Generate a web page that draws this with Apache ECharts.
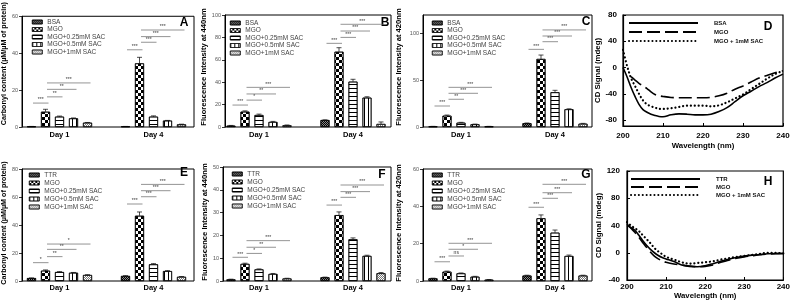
<!DOCTYPE html>
<html><head><meta charset="utf-8">
<script src="https://cdn.jsdelivr.net/npm/echarts@6/dist/echarts.min.js"></script>
<style>html,body{margin:0;padding:0;background:#fff}#c{width:793px;height:307px}</style>
</head><body><div id="c"></div>
<script>
// ---------------- DATA ----------------
const categories = ['Day 1', 'Day 4'];
const groupsBSA = ['BSA', 'MGO', 'MGO+0.25mM SAC', 'MGO+0.5mM SAC', 'MGO+1mM SAC'];
const groupsTTR = ['TTR', 'MGO', 'MGO+0.25mM SAC', 'MGO+0.5mM SAC', 'MGO+1mM SAC'];

// A: carbonyl content, BSA
const carbonylBSA_day1 = [0.3, 8.1, 5.5, 4.6, 2.3];
const carbonylBSA_day4 = [0.3, 33.8, 5.5, 3.4, 1.4];
const carbonylBSA_err1 = [0.3, 9.4, 5.8, 4.8, 2.4];
const carbonylBSA_err4 = [0.3, 37.0, 5.9, 3.5, 1.5];
const carbonylBSA_ticks = [0, 20, 40, 60];
const carbonylBSA_sig = [[0,0,1,12.7,'***'],[0,1,2,16,'**'],[0,1,3,20,'**'],[0,1,4,23.4,'***'],
                         [1,0,1,41,'***'],[1,1,2,45,'***'],[1,1,3,48,'***'],[1,1,4,51.5,'***']];
// B: fluorescence 440nm, BSA
const fl440BSA_day1 = [1.2, 13.7, 10.7, 4.5, 1.5];
const fl440BSA_day4 = [6.2, 67.2, 40.5, 26.2, 2.7];
const fl440BSA_err1 = [1.4, 14.4, 11.5, 5.0, 1.8];
const fl440BSA_err4 = [6.4, 70.8, 42.6, 27.0, 4.5];
const fl440BSA_ticks = [0, 20, 40, 60, 80, 100];
const fl440BSA_sig = [[0,0,1,19.6,'***'],[0,1,2,24,'*'],[0,1,3,29.5,'**'],[0,1,4,35.4,'***'],
                      [1,0,1,74.7,'***'],[1,1,2,80,'***'],[1,1,3,85.7,'***'],[1,1,4,91.7,'***']];
// C: fluorescence 420nm, BSA
const fl420BSA_day1 = [0.6, 12.1, 4.6, 2.9, 0.6];
const fl420BSA_day4 = [4.0, 72.9, 37.2, 19.0, 3.5];
const fl420BSA_err1 = [0.7, 12.8, 5.0, 3.1, 0.7];
const fl420BSA_err4 = [4.3, 77.1, 39.3, 19.5, 3.9];
const fl420BSA_ticks = [0, 50, 100];
const fl420BSA_sig = [[0,0,1,22.5,'***'],[0,1,2,29.7,'**'],[0,1,3,36.1,'***'],[0,1,4,42.5,'***'],
                      [1,0,1,83.2,'***'],[1,1,2,91.4,'***'],[1,1,3,97.5,'***'],[1,1,4,104,'***']];
// E: carbonyl content, TTR
const carbonylTTR_day1 = [2.1, 7.4, 6.4, 5.9, 4.3];
const carbonylTTR_day4 = [3.6, 46.6, 11.9, 7.1, 3.0];
const carbonylTTR_err1 = [2.2, 7.9, 6.7, 6.1, 4.5];
const carbonylTTR_err4 = [3.8, 49.3, 12.4, 7.4, 3.2];
const carbonylTTR_ticks = [0, 20, 40, 60, 80];
const carbonylTTR_sig = [[0,0,1,13.1,'*'],[0,1,2,17.4,'**'],[0,1,3,22.6,'**'],[0,1,4,26.4,'*'],
                         [1,0,1,55,'***'],[1,1,2,60.2,'***'],[1,1,3,64.5,'***'],[1,1,4,69,'***']];
// F: fluorescence 440nm, TTR
const fl440TTR_day1 = [0.7, 7.5, 5.1, 3.1, 1.1];
const fl440TTR_day4 = [1.6, 28.9, 18.3, 11.0, 3.4];
const fl440TTR_err1 = [0.8, 7.8, 5.3, 3.3, 1.2];
const fl440TTR_err4 = [1.7, 30.3, 18.9, 11.3, 3.7];
const fl440TTR_ticks = [0, 10, 20, 30, 40, 50];
const fl440TTR_sig = [[0,0,1,10.4,'***'],[0,1,2,12.1,'*'],[0,1,3,14.8,'**'],[0,1,4,17.7,'***'],
                      [1,0,1,33.3,'***'],[1,1,2,36.7,'***'],[1,1,3,39.2,'***'],[1,1,4,42.1,'***']];
// G: fluorescence 420nm, TTR
const fl420TTR_day1 = [1.4, 5.0, 4.1, 2.3, 0.7];
const fl420TTR_day4 = [2.9, 33.6, 25.9, 13.4, 2.9];
const fl420TTR_err1 = [1.5, 5.3, 4.3, 2.5, 0.8];
const fl420TTR_err4 = [3.1, 35.4, 27.3, 13.9, 3.1];
const fl420TTR_ticks = [0, 20, 40, 60];
const fl420TTR_sig = [[0,0,1,10.3,'***'],[0,1,2,13.4,'ns'],[0,1,3,17,'*'],[0,1,4,20.2,'***'],
                      [1,0,1,39.5,'***'],[1,1,2,44.3,'***'],[1,1,3,47.3,'***'],[1,1,4,51.8,'***']];

// D / H: CD spectra
const wavelength = [200,201,202,203,204,205,206,207,208,209,210,212,214,216,218,220,222,224,226,228,230,232,234,236,238,240];
const wlTicks = [200, 210, 220, 230, 240];
const cdNamesBSA = ['BSA', 'MGO', 'MGO + 1mM SAC'];
const cdNamesTTR = ['TTR', 'MGO', 'MGO + 1mM SAC'];
const cdBSA_native = [0,-14,-30,-44,-56,-64,-68,-71,-73,-74.5,-75,-72,-70.5,-71,-72,-72,-71,-67,-61,-52,-43,-36,-29,-23,-16,-10];
const cdBSA_MGO    = [null,null,-14,-19,-24,-28,-32,-37,-41,-43,-44,-45.5,-46,-46,-46,-46,-45.5,-43,-39,-33,-28,-22,-16,-12,-8,-5];
const cdBSA_SAC    = [27,3,-16,-28,-40,-50,-56,-59,-61,-63,-63,-62,-60,-58,-58,-58,-59,-57.5,-53,-47,-41,-33,-25,-17,-10,-5];
const cdBSA_ticks  = [-80, -40, 0, 40, 80];
const cdTTR_native = [40,37,33,26,18,11,5,0,-4,-7,-9,-13,-18,-20,-20.5,-19,-16,-12.5,-9.5,-7,-5,-3.5,-2.5,-1.5,-1,-1];
const cdTTR_MGO    = [42,36,30,23,15,8,1,-5,-9,-12,-14,-16.5,-18,-19.5,-20.5,-20,-18,-14,-11,-8,-6,-4.5,-3,-2,-1.5,-1];
const cdTTR_SAC    = [45,40,36,32,26,20,14,7,2,-2,-6,-10,-14,-16,-15,-14,-12.5,-10,-8,-6,-4.5,-3,-1.5,0,0,-1];
const cdTTR_ticks  = [-40, 0, 40, 80, 120];

// ---------------- BUILD ----------------
const FONT = '"Liberation Sans", Arial, sans-serif';
const PITCH = 14;
const grids = [], xAxes = [], yAxes = [], series = [], legends = [], graphics = [];

const decals = [
  {symbol:'rect', symbolSize:1, color:'#000', dashArrayX:[[1,1],[0,1,1,0]], dashArrayY:[1,0]},
  {symbol:'rect', symbolSize:1, color:'#000', dashArrayX:[[3,3],[0,3,3,0]], dashArrayY:[3,0]},
  {symbol:'rect', symbolSize:1, color:'#000', dashArrayX:[1,0], dashArrayY:[0.8,2.2]},
  {symbol:'rect', symbolSize:1, color:'#000', dashArrayX:[0.8,2.2], dashArrayY:[1,0]},
  {symbol:'rect', symbolSize:1, color:'#777', dashArrayX:[[1,1],[0,1,1,0]], dashArrayY:[1,0]}
];
const legendDecals = [
  {symbol:'rect', symbolSize:1, color:'#000', dashArrayX:[[1,1],[0,1,1,0]], dashArrayY:[1,0]},
  {symbol:'rect', symbolSize:1, color:'#000', dashArrayX:[[2,2],[0,2,2,0]], dashArrayY:[2,0]},
  {symbol:'rect', symbolSize:1, color:'#000', dashArrayX:[1,0], dashArrayY:[0.8,1.7]},
  {symbol:'rect', symbolSize:1, color:'#000', dashArrayX:[0.8,2.2], dashArrayY:[1,0]},
  {symbol:'rect', symbolSize:1, color:'#888', dashArrayX:[[1,1],[0,1,1,0]], dashArrayY:[1,0]}
];
const barFill = ['#888', '#fff', '#fff', '#fff', '#fff'];

function barPanel(p) {
  const fi = grids.length;
  const h = p.frame[3] - p.frame[1];
  grids.push({left:p.frame[0], top:p.frame[1], width:p.frame[2]-p.frame[0], height:h,
    show:true, borderColor:'#000', borderWidth:1});
  xAxes.push({gridIndex:fi, type:'value', show:false, min:0, max:1});
  yAxes.push({gridIndex:fi, type:'value', min:0, max:p.max,
    axisLine:{show:true, lineStyle:{color:'#000', width:1}},
    axisTick:{show:true, length:3, customValues:p.ticks, lineStyle:{color:'#000', width:0.8}},
    axisLabel:{customValues:p.ticks, fontSize:5.5, color:'#555', margin:4, fontFamily:FONT},
    splitLine:{show:false},
    name:p.yname, nameLocation:'middle', nameGap:p.nameGap,
    nameTextStyle:{fontSize:p.nameSize, fontWeight:'bold', color:'#000', fontFamily:FONT, padding:p.namePad}});
  const bi = grids.length;
  grids.push({left:p.c1 - 47, top:p.frame[1], width:188, height:h});
  xAxes.push({gridIndex:bi, type:'category', data:categories,
    axisLine:{show:false}, axisTick:{show:false},
    axisLabel:{fontSize:7.5, fontWeight:'bold', color:'#000', margin:p.lblMargin, fontFamily:FONT}});
  yAxes.push({gridIndex:bi, type:'value', min:0, max:p.max, show:false});
  p.names.forEach((nm, j) => {
    series.push({type:'bar', name:nm, xAxisIndex:bi, yAxisIndex:bi,
      data:[p.d1[j], p.d4[j]], barWidth:9, barGap:'55.6%',
      itemStyle:{color:barFill[j], borderColor:'#000', borderWidth:0.7, decal:decals[j]}});
    series.push({type:'custom', xAxisIndex:bi, yAxisIndex:bi, silent:true, z:5,
      data:[[0, p.d1[j], p.e1[j]], [1, p.d4[j], p.e4[j]]],
      renderItem:(params, api) => {
        const top = api.coord([api.value(0), api.value(2)]);
        const base = api.coord([api.value(0), api.value(1)]);
        const x = top[0] + (j - 2) * PITCH;
        return {type:'group', children:[
          {type:'line', shape:{x1:x, y1:base[1], x2:x, y2:top[1]}, style:{stroke:'#000', lineWidth:0.7}},
          {type:'line', shape:{x1:x-2.5, y1:top[1], x2:x+2.5, y2:top[1]}, style:{stroke:'#000', lineWidth:0.7}}
        ]};
      }});
  });
  series.push({type:'custom', xAxisIndex:bi, yAxisIndex:bi, silent:true, z:6,
    data:p.sig.map(b => [b[0], b[3]]),
    renderItem:(params, api) => {
      const b = p.sig[params.dataIndex];
      const c = api.coord([b[0], b[3]]);
      const x1 = c[0] + (b[1] - 2) * PITCH + 1.5;
      const x2 = c[0] + (b[2] - 2) * PITCH + 3;
      return {type:'group', children:[
        {type:'line', shape:{x1:x1, y1:c[1], x2:x2, y2:c[1]}, style:{stroke:'#666', lineWidth:0.7}},
        {type:'text', x:(x1+x2)/2, y:c[1]-0.5, style:{text:b[4], fill:'#333', fontSize:5, fontFamily:FONT, align:'center', verticalAlign:'bottom'}}
      ]};
    }});
  legends.push({orient:'vertical', left:p.legend[0], top:p.legend[1], padding:0,
    itemWidth:10, itemHeight:4, itemGap:p.legendGap, selectedMode:false, icon:'rect',
    data:p.names.map((n, j) => ({name:n, icon:'rect',
      itemStyle:{color:barFill[j], borderColor:'#000', borderWidth:0.6, decal:legendDecals[j]}})),
    textStyle:{fontSize:6.5, color:'#444', fontFamily:FONT, lineHeight:7}});
  graphics.push({type:'text', x:p.letter[0], y:p.letter[1],
    style:{text:p.letterText, fontSize:12, fontWeight:'bold', fill:'#000', fontFamily:FONT, align:'center', verticalAlign:'middle'}});
}

const lineStyles = [
  {color:'#000', width:1.6},
  {color:'#000', width:1.6, type:[13,5]},
  {color:'#000', width:2.2, type:[0.1,3.8], cap:'round'}
];

function linePanel(p) {
  const gi = grids.length;
  grids.push({left:p.frame[0], top:p.frame[1], width:p.frame[2]-p.frame[0], height:p.frame[3]-p.frame[1],
    show:true, borderColor:'#000', borderWidth:1.2});
  xAxes.push({gridIndex:gi, type:'value', min:200, max:240,
    axisLine:{show:true, onZero:false, lineStyle:{color:'#000', width:1.2}},
    axisTick:{show:true, inside:true, length:3, customValues:wlTicks, lineStyle:{color:'#000'}},
    axisLabel:{customValues:wlTicks, fontSize:8, fontWeight:'bold', color:'#000', margin:p.xMargin, fontFamily:FONT},
    splitLine:{show:false},
    name:'Wavelength (nm)', nameLocation:'middle', nameGap:p.xNameGap,
    nameTextStyle:{fontSize:7.8, fontWeight:'bold', color:'#000', fontFamily:FONT}});
  yAxes.push({gridIndex:gi, type:'value', min:p.ymin, max:p.ymax,
    axisLine:{show:true, onZero:false, lineStyle:{color:'#000', width:1.2}},
    axisTick:{show:true, inside:true, length:3, customValues:p.ticks, lineStyle:{color:'#000'}},
    axisLabel:{customValues:p.ticks, fontSize:8, fontWeight:'bold', color:'#000', margin:p.yMargin, fontFamily:FONT},
    splitLine:{show:false},
    name:'CD Signal (mdeg)', nameLocation:'middle', nameGap:p.nameGap,
    nameTextStyle:{fontSize:7.8, fontWeight:'bold', color:'#000', fontFamily:FONT}});
  p.lines.forEach((arr, k) => {
    series.push({type:'line', name:p.prefix + p.names[k], xAxisIndex:gi, yAxisIndex:gi,
      data:wavelength.map((w, i) => [w, arr[i]]), smooth:0.35, symbol:'none',
      itemStyle:{color:'#000'}, lineStyle:lineStyles[k], z:3 + k});
  });
  legends.push({orient:'vertical', left:p.legend[0], top:p.legend[1], padding:0,
    itemWidth:69, itemHeight:6, itemGap:p.legendGap, selectedMode:false,
    itemStyle:{opacity:0},
    data:p.names.map(n => p.prefix + n),
    formatter:n => n.slice(p.prefix.length),
    textStyle:{fontSize:6, fontWeight:'bold', color:'#111', fontFamily:FONT, padding:[0,0,0,11]}});
  graphics.push({type:'text', x:p.letter[0], y:p.letter[1],
    style:{text:p.letterText, fontSize:12, fontWeight:'bold', fill:'#000', fontFamily:FONT, align:'center', verticalAlign:'middle'}});
}

barPanel({frame:[21,14,194,127], c1:59.5, max:60, ticks:carbonylBSA_ticks, names:groupsBSA,
  d1:carbonylBSA_day1, d4:carbonylBSA_day4, e1:carbonylBSA_err1, e4:carbonylBSA_err4, sig:carbonylBSA_sig,
  yname:'Carbonyl content (\u00b5M/\u00b5M of protein)', nameGap:10, nameSize:7.2, namePad:[0,0,0,16], lblMargin:4,
  legend:[32,18.5], legendGap:0.5, letter:[184,23], letterText:'A'});
barPanel({frame:[225,15,391,127], c1:259, max:100, ticks:fl440BSA_ticks, names:groupsBSA,
  d1:fl440BSA_day1, d4:fl440BSA_day4, e1:fl440BSA_err1, e4:fl440BSA_err4, sig:fl440BSA_sig,
  yname:'Fluorescence Intensity at 440nm', nameGap:15, nameSize:7.6, namePad:[0,0,0,8], lblMargin:4,
  legend:[230,19.5], legendGap:0.5, letter:[385,23], letterText:'B'});
barPanel({frame:[423,15,592,127], c1:461, max:120, ticks:fl420BSA_ticks, names:groupsBSA,
  d1:fl420BSA_day1, d4:fl420BSA_day4, e1:fl420BSA_err1, e4:fl420BSA_err4, sig:fl420BSA_sig,
  yname:'Fluorescence Intensity at 420nm', nameGap:20, nameSize:7.6, namePad:[0,0,0,8], lblMargin:4,
  legend:[432,19.5], legendGap:0.5, letter:[586,22], letterText:'C'});
barPanel({frame:[21,169,194,281], c1:59.5, max:80, ticks:carbonylTTR_ticks, names:groupsTTR,
  d1:carbonylTTR_day1, d4:carbonylTTR_day4, e1:carbonylTTR_err1, e4:carbonylTTR_err4, sig:carbonylTTR_sig,
  yname:'Carbonyl content (\u00b5M/\u00b5M of protein)', nameGap:10, nameSize:7.2, namePad:[0,0,0,4], lblMargin:3,
  legend:[29,171.5], legendGap:1, letter:[184,173], letterText:'E'});
barPanel({frame:[223,167,391,281], c1:259, max:50, ticks:fl440TTR_ticks, names:groupsTTR,
  d1:fl440TTR_day1, d4:fl440TTR_day4, e1:fl440TTR_err1, e4:fl440TTR_err4, sig:fl440TTR_sig,
  yname:'Fluorescence Intensity at 440nm', nameGap:14, nameSize:7.6, namePad:[0,0,0,4], lblMargin:3,
  legend:[232,170.5], legendGap:1, letter:[382,175], letterText:'F'});
barPanel({frame:[423,169,592,281], c1:461, max:60, ticks:fl420TTR_ticks, names:groupsTTR,
  d1:fl420TTR_day1, d4:fl420TTR_day4, e1:fl420TTR_err1, e4:fl420TTR_err4, sig:fl420TTR_sig,
  yname:'Fluorescence Intensity at 420nm', nameGap:20, nameSize:7.6, namePad:[0,0,0,4], lblMargin:3,
  legend:[432,171.5], legendGap:1, letter:[586,175], letterText:'G'});

linePanel({frame:[623,15,783,126], ymin:-89, ymax:80, ticks:cdBSA_ticks, names:cdNamesBSA, prefix:'D:',
  lines:[cdBSA_native, cdBSA_MGO, cdBSA_SAC], nameGap:16, xNameGap:16, xMargin:6, yMargin:6,
  legend:[628,20], legendGap:3, letter:[768,27], letterText:'D'});
linePanel({frame:[627,171,785,280], ymin:-40, ymax:120, ticks:cdTTR_ticks, names:cdNamesTTR, prefix:'H:',
  lines:[cdTTR_native, cdTTR_MGO, cdTTR_SAC], nameGap:20, xNameGap:12, xMargin:3, yMargin:7,
  legend:[630,176], legendGap:2, letter:[768,182], letterText:'H'});

const chart = echarts.init(document.getElementById('c'), null, {renderer:'canvas'});
chart.setOption({
  animation:false,
  backgroundColor:'#fff',
  textStyle:{fontFamily:FONT},
  grid:grids, xAxis:xAxes, yAxis:yAxes, series:series, legend:legends, graphic:graphics
});
</script></body></html>
